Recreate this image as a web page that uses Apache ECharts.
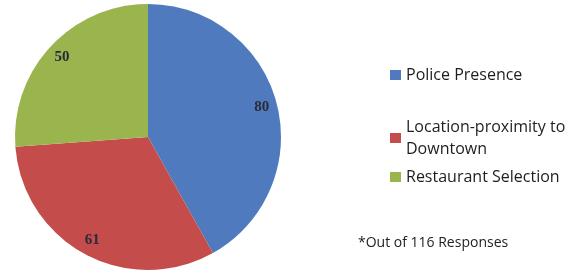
<!DOCTYPE html>
<html>
<head>
<meta charset="utf-8">
<script src="https://cdn.jsdelivr.net/npm/echarts@6/dist/echarts.min.js"></script>
<style>html,body{margin:0;padding:0;background:#fff;}#c{width:581px;height:275px;}</style>
</head>
<body>
<div id="c"></div>
<script>
const categories = ["Police Presence", "Location-proximity to Downtown", "Restaurant Selection"];
const values = [80, 61, 50];
const colors = ["#4F7BBE", "#C44D4B", "#9BB54E"];
const footnote = "*Out of 116 Responses";

const chart = echarts.init(document.getElementById('c'));
const data = categories.map((c, i) => ({ name: c, value: values[i], itemStyle: { color: colors[i] } }));
const legendFont = { fontFamily: "Open Sans", fontSize: 16, color: "#1e1e1e" };
const legendTops = [59, 100, 161];
chart.setOption({
  animation: false,
  backgroundColor: "#fff",
  title: {
    text: footnote, left: 353, top: 231,
    textStyle: { fontFamily: "Open Sans", fontSize: 14, fontWeight: "normal", color: "#222" }
  },
  legend: categories.map((c, i) => ({
    data: [c], orient: "vertical", left: 385, top: legendTops[i],
    icon: "rect", itemWidth: 11, itemHeight: 10, itemGap: 5,
    selectedMode: false,
    formatter: c === "Location-proximity to Downtown" ? "Location-proximity to\nDowntown" : c,
    textStyle: Object.assign({ lineHeight: 22 }, legendFont,
      c === "Location-proximity to Downtown" ? { padding: [22, 0, 0, 0] } : {})
  })),
  series: [
    {
      type: "pie", center: [148, 137], radius: 133, startAngle: 90, clockwise: true,
      label: { show: false }, labelLine: { show: false }, silent: true,
      itemStyle: { borderWidth: 0 },
      data: data
    },
    {
      type: "pie", center: [148, 137], radius: [96, 133], startAngle: 90, clockwise: true,
      silent: true, legendHoverLink: false,
      itemStyle: { color: "rgba(0,0,0,0)", borderWidth: 0 },
      label: { show: true, position: "inside", formatter: "{c}", fontFamily: "Liberation Serif", fontSize: 15, fontWeight: "bold", color: "#2a2a3a" },
      labelLine: { show: false },
      data: categories.map((c, i) => ({ name: c + " ", value: values[i] }))
    }
  ]
});
</script>
</body>
</html>
